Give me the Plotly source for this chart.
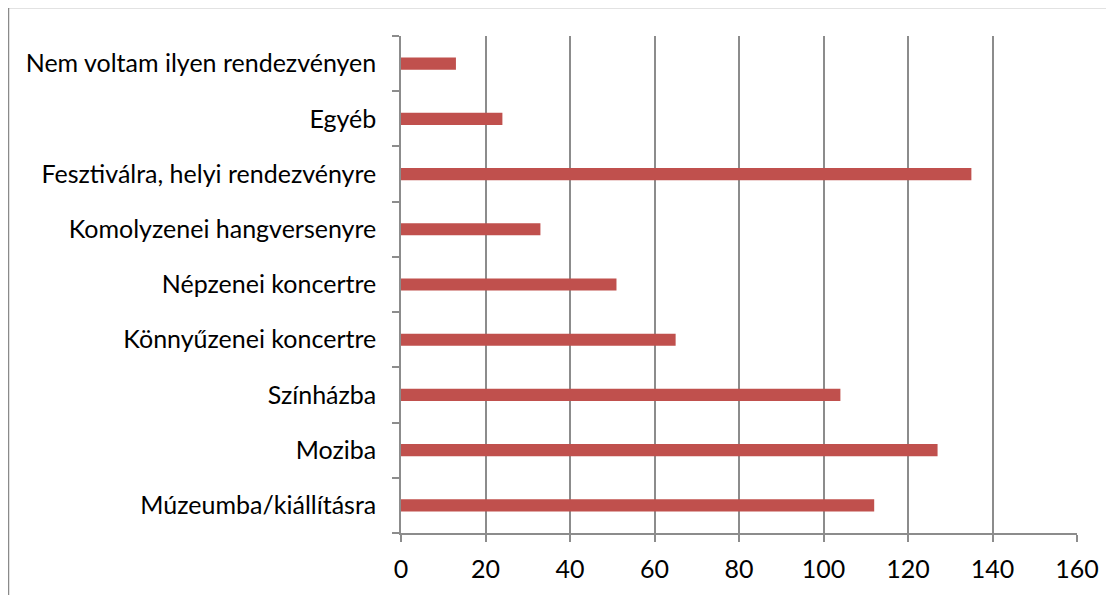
import plotly.graph_objects as go

categories = [
    "Múzeumba/kiállításra",
    "Moziba",
    "Színházba",
    "Könnyűzenei koncertre",
    "Népzenei koncertre",
    "Komolyzenei hangversenyre",
    "Fesztiválra, helyi rendezvényre",
    "Egyéb",
    "Nem voltam ilyen rendezvényen",
]
values = [112, 127, 104, 65, 51, 33, 135, 24, 13]
x_ticks = [0, 20, 40, 60, 80, 100, 120, 140, 160]

OFF = 8  # page body margin
W, H = 1114 - OFF, 595 - OFF
L, R, T, B = 401 - OFF, 1077 - OFF, 36 - OFF, 535 - OFF

fig = go.Figure(go.Bar(
    x=values, y=categories, orientation="h",
    marker=dict(color="#C0504D", line=dict(width=0)),
))

pw = R - L
ph = B - T
fig.update_layout(
    width=W, height=H,
    margin=dict(l=L, r=W - R, t=T, b=H - B, pad=0),
    paper_bgcolor="white", plot_bgcolor="white",
    bargap=0.78,
    showlegend=False,
    font=dict(family="Lato, Open Sans, sans-serif", size=25, color="#000000"),
    xaxis=dict(
        range=[0, 160], tickvals=x_ticks, ticktext=[str(v) for v in x_ticks],
        showgrid=True, gridcolor="#8C8C8C", gridwidth=1.5,
        showline=True, linecolor="#8C8C8C", linewidth=1.5,
        ticks="outside", ticklen=7, tickcolor="#8C8C8C", tickwidth=1.5,
        zeroline=False, ticklabelstandoff=6,
    ),
    yaxis=dict(
        categoryorder="array", categoryarray=categories,
        showgrid=False, showline=True, linecolor="#8C8C8C", linewidth=1.5,
        ticks="outside", ticklen=7, tickcolor="#8C8C8C", tickwidth=1.5,
        tickson="boundaries", ticklabelstandoff=18,
    ),
    shapes=[dict(
        type="rect", xref="paper", yref="paper",
        x0=(8 - OFF - L) / pw, x1=(W + 20 - L) / pw,
        y0=(B - (H + 20)) / ph, y1=(B - (7 - OFF)) / ph,
        line=dict(color="#8A8A8A", width=2.5), fillcolor="rgba(0,0,0,0)",
        layer="below",
    )],
)

fig.write_html("out.html")
